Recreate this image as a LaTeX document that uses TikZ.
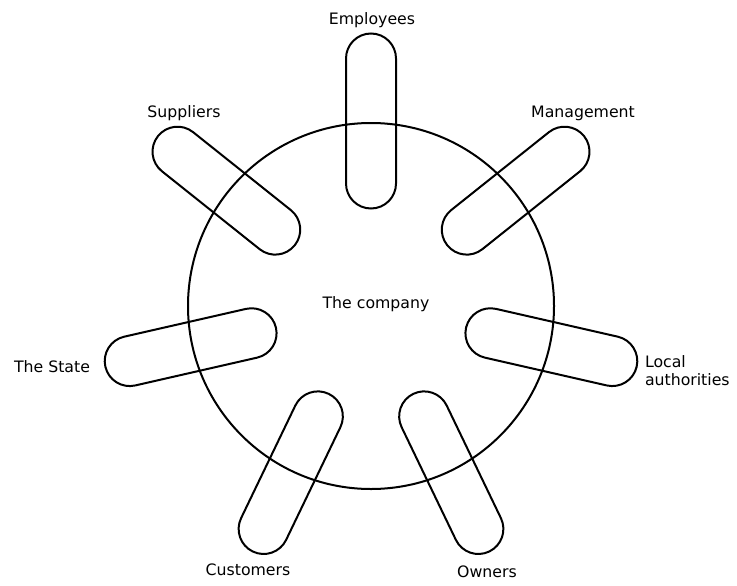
\documentclass[tikz,border=0pt]{standalone}
\usepackage{fontspec}
\setmainfont{DejaVu Sans}
\usetikzlibrary{calc}
\begin{document}
\begin{tikzpicture}[x=0.75pt,y=0.75pt,
  line width=1.5pt,
  capsule/.style={draw, rectangle, minimum width=131.25pt, minimum height=37.5pt,
    rounded corners=18.75pt, inner sep=0pt},
  lbl/.style={font=\fontsize{11.8}{13.5}\selectfont, inner sep=0pt}]
\useasboundingbox (0,0) rectangle (737,-585);
\node[draw, circle, minimum size=274.5pt, inner sep=0pt] (C) at (371,-306) {};
\node[lbl] (tc) at (376,-304) {The company};
\foreach \k/\nm in {0/emp,1/man,2/loc,3/own,4/cus,5/sta,6/sup}{
  \pgfmathsetmacro{\ang}{90-\k*360/7}
  \node[capsule, rotate=\ang] (\nm) at ($(C.center)+(\ang:185)$) {};
}
\node[lbl] (lemp) at (372,-20) {Employees};
\node[lbl] (lsup) at (184,-113) {Suppliers};
\node[lbl] (lman) at (583,-113) {Management};
\node[lbl] (lsta) at (52,-367) {The State};
\node[lbl, anchor=west, align=left] (lloc) at (644,-371) {Local\\authorities};
\node[lbl] (lcus) at (248,-570) {Customers};
\node[lbl] (lown) at (487,-572) {Owners};
\end{tikzpicture}
\end{document}
